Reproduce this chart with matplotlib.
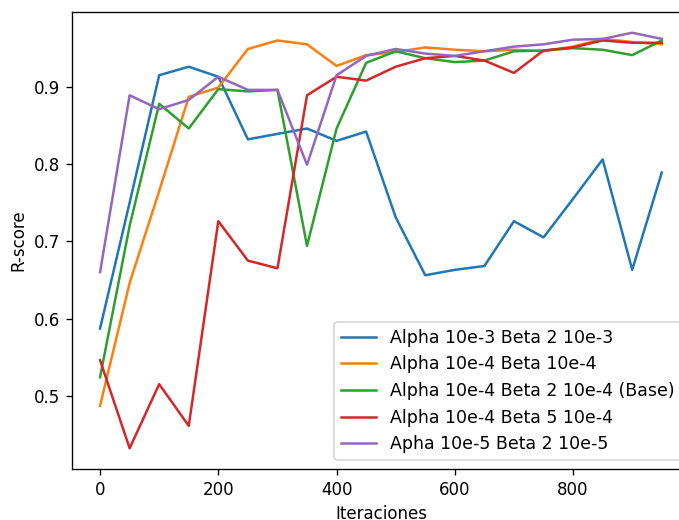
import numpy as np
import matplotlib
matplotlib.use('Agg')
import matplotlib.pyplot as plt

# Iteraciones (cada 50)
iteraciones = np.arange(0, 1000, 50)

# R-score por configuracion
r_a3_b2e3 = [0.587, 0.750, 0.915, 0.926, 0.913, 0.832, 0.839, 0.846, 0.830, 0.842,
             0.731, 0.656, 0.663, 0.668, 0.726, 0.705, 0.755, 0.806, 0.663, 0.789]
r_a4_b4 = [0.487, 0.646, 0.765, 0.887, 0.899, 0.949, 0.960, 0.955, 0.927, 0.941,
           0.945, 0.951, 0.948, 0.946, 0.948, 0.946, 0.952, 0.962, 0.958, 0.955]
r_a4_b2e4 = [0.524, 0.720, 0.878, 0.846, 0.897, 0.894, 0.896, 0.694, 0.846, 0.931,
             0.946, 0.937, 0.932, 0.934, 0.946, 0.947, 0.950, 0.948, 0.941, 0.960]
r_a4_b5e4 = [0.546, 0.432, 0.515, 0.461, 0.726, 0.675, 0.665, 0.889, 0.913, 0.908,
             0.926, 0.937, 0.940, 0.934, 0.918, 0.947, 0.951, 0.960, 0.957, 0.957]
r_a5_b2e5 = [0.660, 0.889, 0.871, 0.883, 0.913, 0.896, 0.896, 0.799, 0.915, 0.940,
             0.949, 0.943, 0.940, 0.946, 0.952, 0.955, 0.961, 0.962, 0.970, 0.962]

etiquetas = ['Alpha 10e-3 Beta 2 10e-3',
             'Alpha 10e-4 Beta 10e-4',
             'Alpha 10e-4 Beta 2 10e-4 (Base)',
             'Alpha 10e-4 Beta 5 10e-4',
             'Apha 10e-5 Beta 2 10e-5']

# el original parece exportado a ~120 dpi
plt.figure(figsize=(679 / 120, 520 / 120), dpi=120)
for serie, etiqueta in zip([r_a3_b2e3, r_a4_b4, r_a4_b2e4, r_a4_b5e4, r_a5_b2e5], etiquetas):
    plt.plot(iteraciones, serie, label=etiqueta)
plt.xlabel('Iteraciones')
plt.ylabel('R-score')
plt.legend(loc='lower right', fontsize=10.4)
# el grafico original esta recortado por la derecha
plt.subplots_adjust(left=0.106, right=1.016, top=0.977, bottom=0.098)
plt.savefig('out.png')
